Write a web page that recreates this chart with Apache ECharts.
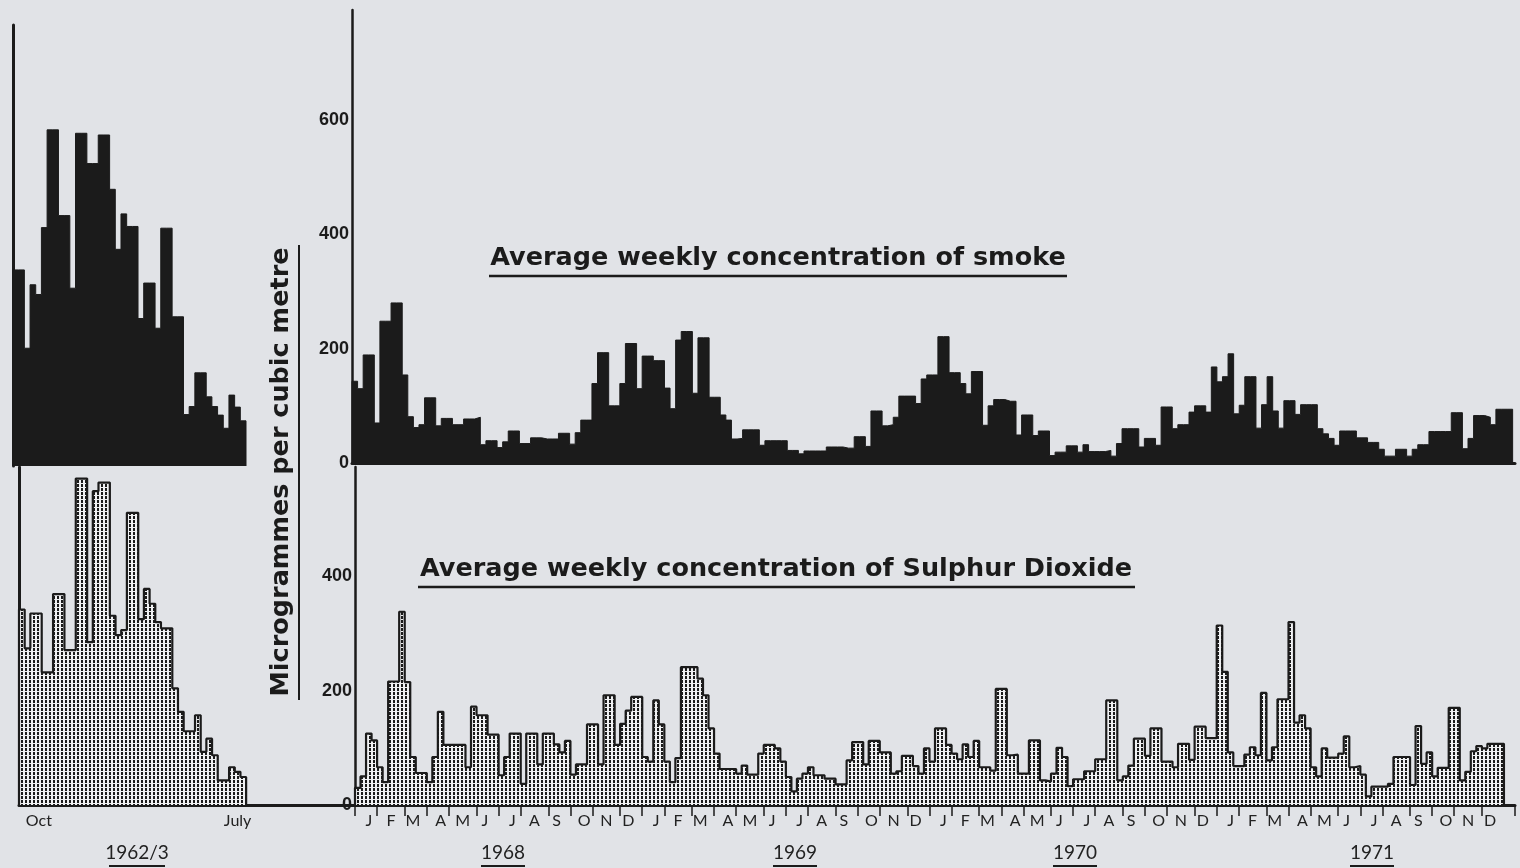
<!DOCTYPE html>
<html><head><meta charset="utf-8">
<script src="https://cdn.jsdelivr.net/npm/echarts@6/dist/echarts.min.js"></script>
<style>html,body{margin:0;padding:0;background:#e2e4e8;}#c{width:1520px;height:868px;}</style>
</head><body><div id="c"></div>
<script>
// ---- data (micrograms per cubic metre, weekly) ----
const smoke1962 = [343,343,206,317,300,417,588,588,438,438,
  311,582,582,529,529,579,579,484,379,441,
  419,419,258,320,320,241,416,416,261,261,
  90,104,163,163,121,104,89,66,124,103,79];
const so2_1962 = [342,274,335,335,232,232,369,369,271,271,
  571,571,285,549,564,564,331,297,306,511,
  511,325,378,352,320,309,309,204,163,129,
  129,157,93,116,87,43,43,66,58,49];
const smoke6871 = [
  143,130,189,189,70,248,248,280,280,154,
  81,62,67,114,114,65,78,78,67,67,
  77,77,80,32,39,39,27,37,56,56,
  34,34,44,44,42,42,42,52,52,33,
  53,75,75,139,193,193,100,100,139,209,
  209,130,187,187,179,179,131,95,215,230,
  230,122,219,219,115,115,84,75,42,43,
  58,58,58,31,39,39,39,39,22,22,
  16,21,21,21,21,28,28,28,26,26,
  46,46,29,91,91,65,67,80,117,117,
  117,104,147,154,154,221,221,158,158,139,
  121,160,160,66,100,111,111,108,108,49,
  84,84,48,56,56,13,19,19,30,30,
  19,32,20,20,20,22,12,34,60,60,
  60,28,43,43,31,98,98,60,67,67,
  89,100,100,89,168,142,151,191,86,101,
  151,151,61,102,151,91,61,109,109,85,
  102,102,102,60,51,43,31,56,56,56,
  44,44,36,36,24,12,12,24,24,12,
  24,32,32,55,55,55,55,88,88,25,
  43,83,83,80,67,94,94,94];
const so2_6871 = [
  30,50,125,113,66,40,216,216,338,215,
  84,56,56,40,84,163,105,105,105,105,
  66,172,157,157,123,123,52,84,125,125,
  37,125,125,71,125,125,106,92,112,53,
  71,71,141,141,71,192,192,105,142,165,
  189,189,84,76,183,141,76,40,82,241,
  241,241,221,192,134,90,63,63,63,55,
  69,53,53,90,105,105,99,76,49,24,
  46,55,66,52,52,46,46,36,36,78,
  110,110,71,112,112,92,92,55,59,86,
  86,68,55,99,76,134,134,105,90,80,
  106,84,112,66,66,60,203,203,87,88,
  55,55,113,113,43,41,55,100,84,33,
  45,45,59,59,80,80,183,183,43,50,
  69,116,116,86,134,134,76,76,66,107,
  107,79,137,137,117,117,314,233,92,68,
  68,88,101,87,196,78,101,185,185,320,
  144,157,134,66,50,99,83,83,90,120,
  66,68,53,15,32,32,32,37,84,84,
  84,35,138,72,92,50,65,65,170,170,
  43,58,94,103,99,107,107,107];
const monthLetters = ['J','F','M','A','M','J','J','A','S','O','N','D'];
const years = ['1968','1969','1970','1971'];
const winterLabel = '1962/3';
const winterMonths = ['Oct','July'];
const titleSmoke = 'Average weekly concentration of smoke';
const titleSO2 = 'Average weekly concentration of Sulphur Dioxide';
const yName = 'Microgrammes per cubic metre';

// ---- helpers ----
function stepData(vals){
  const d=[[0,0]];
  vals.forEach((v,i)=>d.push([i,v]));
  d.push([vals.length, vals[vals.length-1]]);
  d.push([vals.length,0]);
  return d;
}
const INK = '#1b1b1b';
const pc = document.createElement('canvas'); pc.width=4; pc.height=4;
const cx = pc.getContext('2d');
cx.fillStyle='#f0f1f3'; cx.fillRect(0,0,4,4);
cx.fillStyle='#1b1b1b'; cx.fillRect(1,0,2,3);
const dotted = {image: pc, repeat: 'repeat'};

// category label axis for 1968-71 (210 bands, 4 years of weekly bands + margin)
const NR = 210;
const rightCats = new Array(NR).fill('');
const monthStarts = new Set();
for (let m=0;m<48;m++){
  rightCats[Math.floor(m*52/12 + 52/24)] = monthLetters[m%12];
  monthStarts.add(Math.round(m*52/12));
}
const NL = 59;
const leftCats = new Array(NL).fill('');
leftCats[3] = winterMonths[0];
leftCats[38] = winterMonths[1];

const yLabel = {fontFamily:'"Liberation Sans", Arial', fontWeight:'bold', fontSize:18, color:INK, margin:3,
  formatter: v => (v % 200 === 0 ? String(v) : '')};
const monthLabel = {fontFamily:'Lato', fontSize:16, color:'#222', margin:8};

const chart = echarts.init(document.getElementById('c'), null, {renderer:'canvas'});
const option = {
  backgroundColor:'#e1e3e7',
  animation:false,
  grid:[
    {left:13, top:25, width:233, height:441},
    {left:19, top:467, width:335, height:338},
    {left:352, top:10, width:1163, height:453},
    {left:355, top:467, width:1160, height:338}
  ],
  xAxis:[
    {gridIndex:0, type:'value', min:0, max:41, show:false},
    {gridIndex:1, type:'value', min:0, max:NL, show:false},
    {gridIndex:1, type:'category', position:'bottom', data:leftCats, boundaryGap:true,
      axisLine:{lineStyle:{color:INK, width:3}}, axisTick:{show:false},
      axisLabel:Object.assign({interval:0}, monthLabel), splitLine:{show:false}},
    {gridIndex:2, type:'value', min:0, max:1163/5.58, position:'bottom',
      axisLine:{show:true, onZero:false, lineStyle:{color:INK, width:3}}, axisTick:{show:false},
      axisLabel:{show:false}, splitLine:{show:false}},
    {gridIndex:3, type:'value', min:0, max:NR, show:false},
    {gridIndex:3, type:'category', position:'bottom', data:rightCats, boundaryGap:true,
      axisLine:{lineStyle:{color:INK, width:3}},
      axisTick:{show:true, interval:(i)=>monthStarts.has(i), length:11, lineStyle:{color:INK, width:1.5}},
      axisLabel:Object.assign({interval:0}, monthLabel), splitLine:{show:false}}
  ],
  yAxis:[
    {gridIndex:0, type:'value', min:0, max:441/0.5717, axisLine:{show:true, lineStyle:{color:INK, width:3}},
      axisTick:{show:false}, axisLabel:{show:false}, splitLine:{show:false}},
    {gridIndex:1, type:'value', min:0, max:338/0.5717, axisLine:{show:true, lineStyle:{color:INK, width:3}},
      axisTick:{show:false}, axisLabel:{show:false}, splitLine:{show:false}},
    {gridIndex:2, type:'value', min:0, max:453/0.5717, interval:200, axisLine:{show:true, lineStyle:{color:INK, width:2.5}},
      axisTick:{show:false}, axisLabel:yLabel, splitLine:{show:false}},
    {gridIndex:3, type:'value', min:0, max:338/0.5717, interval:200, axisLine:{show:true, lineStyle:{color:INK, width:2.5}},
      axisTick:{show:false}, axisLabel:yLabel, splitLine:{show:false}}
  ],
  series:[
    {type:'line', xAxisIndex:0, yAxisIndex:0, data:stepData(smoke1962), step:'end', symbol:'none',
      lineStyle:{color:INK, width:1}, areaStyle:{color:INK, opacity:1}},
    {type:'line', xAxisIndex:1, yAxisIndex:1, data:stepData(so2_1962), step:'end', symbol:'none',
      lineStyle:{color:INK, width:2.2}, areaStyle:{color:dotted, opacity:1}},
    {type:'line', xAxisIndex:3, yAxisIndex:2, data:stepData(smoke6871), step:'end', symbol:'none',
      lineStyle:{color:INK, width:1}, areaStyle:{color:INK, opacity:1}},
    {type:'line', xAxisIndex:4, yAxisIndex:3, data:stepData(so2_6871), step:'end', symbol:'none',
      lineStyle:{color:INK, width:2.2}, areaStyle:{color:dotted, opacity:1}}
  ],
  graphic:[]
};
const titleFont = 'bold 25.5px "DejaVu Sans"';
const g = option.graphic;
g.push({type:'text', x:778, y:258, style:{text:titleSmoke, font:titleFont, fill:INK, textAlign:'center', textVerticalAlign:'middle'}});
g.push({type:'line', shape:{x1:489,y1:276,x2:1067,y2:276}, style:{stroke:INK, lineWidth:2.5}});
g.push({type:'text', x:776, y:569, style:{text:titleSO2, font:titleFont, fill:INK, textAlign:'center', textVerticalAlign:'middle'}});
g.push({type:'line', shape:{x1:418,y1:587,x2:1135,y2:587}, style:{stroke:INK, lineWidth:2.5}});
g.push({type:'text', x:281, y:472, rotation:Math.PI/2, style:{text:yName, font:'bold 25.5px "DejaVu Sans"', fill:INK, textAlign:'center', textVerticalAlign:'middle'}});
g.push({type:'line', shape:{x1:299,y1:245,x2:299,y2:700}, style:{stroke:INK, lineWidth:2}});
const yearX = [503, 795, 1075, 1372];
const labelsBottom = [{t:winterLabel, x:137, w:56}].concat(years.map((y,i)=>({t:y, x:yearX[i], w:44})));
labelsBottom.forEach(o=>{
  g.push({type:'text', x:o.x, y:853, style:{text:o.t, font:'19px Lato', fill:'#222', textAlign:'center', textVerticalAlign:'middle'}});
  g.push({type:'line', shape:{x1:o.x-o.w/2,y1:866,x2:o.x+o.w/2,y2:866}, style:{stroke:INK, lineWidth:2}});
});
chart.setOption(option);
</script></body></html>
